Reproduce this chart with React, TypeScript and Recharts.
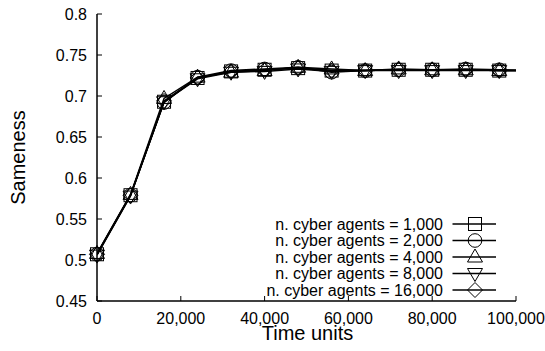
import { LineChart, Line, XAxis, YAxis, Legend, Label } from "recharts";

const times = [0, 8000, 16000, 24000, 32000, 40000, 48000, 56000, 64000, 72000, 80000, 88000, 96000, 104000];
const agents1000 = [0.507, 0.579, 0.693, 0.722, 0.730, 0.732, 0.734, 0.731, 0.731, 0.732, 0.732, 0.732, 0.731, 0.731];
const agents2000 = [0.507, 0.579, 0.692, 0.723, 0.731, 0.733, 0.735, 0.729, 0.731, 0.732, 0.732, 0.733, 0.732, 0.731];
const agents4000 = [0.508, 0.580, 0.697, 0.723, 0.729, 0.731, 0.735, 0.733, 0.731, 0.733, 0.732, 0.732, 0.731, 0.731];
const agents8000 = [0.506, 0.578, 0.693, 0.721, 0.729, 0.730, 0.733, 0.730, 0.731, 0.731, 0.731, 0.731, 0.731, 0.731];
const agents16000 = [0.507, 0.579, 0.694, 0.722, 0.730, 0.732, 0.734, 0.731, 0.731, 0.732, 0.732, 0.732, 0.731, 0.731];

const seriesNames = [
  "n. cyber agents = 1,000",
  "n. cyber agents = 2,000",
  "n. cyber agents = 4,000",
  "n. cyber agents = 8,000",
  "n. cyber agents = 16,000",
];
const seriesValues = [agents1000, agents2000, agents4000, agents8000, agents16000];
const shapes = ["square", "circle", "triangle", "triangleDown", "diamond"];

const xTicks = [0, 20000, 40000, 60000, 80000, 100000];
const yTicks = [0.45, 0.5, 0.55, 0.6, 0.65, 0.7, 0.75, 0.8];
const xMax = 100000;

const FONT = '"Liberation Sans", Arial, Helvetica, sans-serif';

const series = seriesValues.map((vals, i) => {
  const points = times.map((t, j) => ({ x: t, y: vals[j] }));
  return {
    name: seriesNames[i],
    shape: shapes[i],
    points,
    visible: points.filter((p) => p.x <= xMax),
  };
});

function Marker({ shape, cx, cy }: { shape: string; cx: number; cy: number }) {
  const common = { fill: "none", stroke: "#000", strokeWidth: 1 };
  if (shape === "square")
    return <rect x={cx - 6.5} y={cy - 6.5} width={13} height={13} {...common} />;
  if (shape === "circle") return <circle cx={cx} cy={cy} r={6.8} {...common} />;
  if (shape === "triangle")
    return <polygon points={`${cx},${cy - 8} ${cx - 7.5},${cy + 5} ${cx + 7.5},${cy + 5}`} {...common} />;
  if (shape === "triangleDown")
    return <polygon points={`${cx},${cy + 8} ${cx - 7.5},${cy - 5} ${cx + 7.5},${cy - 5}`} {...common} />;
  return <polygon points={`${cx},${cy - 7.5} ${cx + 7.5},${cy} ${cx},${cy + 7.5} ${cx - 7.5},${cy}`} {...common} />;
}

const fmtX = (v: number) => v.toLocaleString("en-US");

function BottomTick(props: any) {
  const { x, y, payload } = props;
  return (
    <g>
      <line x1={x} y1={y} x2={x} y2={y - 5} stroke="#000" strokeWidth={1} />
      <text x={x} y={y + 23} textAnchor="middle" fontSize={16} fill="#000" fontFamily={FONT}>
        {fmtX(payload.value)}
      </text>
    </g>
  );
}

function TopTick(props: any) {
  const { x, y } = props;
  return <line x1={x} y1={y} x2={x} y2={y + 5} stroke="#000" strokeWidth={1} />;
}

function LeftTick(props: any) {
  const { x, y, payload } = props;
  return (
    <g>
      <line x1={x} y1={y} x2={x + 5} y2={y} stroke="#000" strokeWidth={1} />
      <text x={x - 10} y={y} dy="0.36em" textAnchor="end" fontSize={16} fill="#000" fontFamily={FONT}>
        {String(payload.value)}
      </text>
    </g>
  );
}

function RightTick(props: any) {
  const { x, y } = props;
  return <line x1={x} y1={y} x2={x - 5} y2={y} stroke="#000" strokeWidth={1} />;
}

function XTitle(props: any) {
  const { x, y, width } = props.viewBox;
  return (
    <text x={x + width / 2 + 1} y={y + 39} textAnchor="middle" fontSize={20} fill="#000" fontFamily={FONT}>
      Time units
    </text>
  );
}

function YTitle(props: any) {
  const { y, height } = props.viewBox;
  const cx = 17.5;
  const cy = y + height / 2;
  return (
    <text
      x={cx}
      y={cy}
      dy="0.36em"
      textAnchor="middle"
      fontSize={20}
      fill="#000"
      fontFamily={FONT}
      transform={`rotate(-90, ${cx}, ${cy})`}
    >
      Sameness
    </text>
  );
}

function LegendBox() {
  const textRight = 443;
  const lineX1 = 452.5;
  const lineX2 = 496;
  const markerX = 475;
  const top = 224;
  const step = 16.5;
  return (
    <svg width={545} height={351} style={{ display: "block" }}>
      {series.map((s, i) => {
        const cy = top + i * step;
        return (
          <g key={s.name}>
            <text x={textRight} y={cy} dy="0.36em" textAnchor="end" fontSize={16} fill="#000" fontFamily={FONT}>
              {s.name}
            </text>
            <line x1={lineX1} y1={cy} x2={lineX2} y2={cy} stroke="#000" strokeWidth={1.5} />
            <Marker shape={s.shape} cx={markerX} cy={cy} />
          </g>
        );
      })}
    </svg>
  );
}

export default function App() {
  return (
    <div style={{ position: "absolute", left: 0, top: 0, background: "#fff" }}>
      <LineChart
        width={545}
        height={351}
        margin={{ top: 14, right: 29, bottom: 0, left: 0 }}
        style={{ fontFamily: FONT }}
      >
        <XAxis
          xAxisId="main"
          dataKey="x"
          type="number"
          domain={[0, xMax]}
          allowDataOverflow
          ticks={xTicks}
          interval={0}
          height={50}
          tickSize={0}
          tickMargin={0}
          tickLine={false}
          tick={<BottomTick />}
          axisLine={{ stroke: "#000", strokeWidth: 1.5 }}
          label={XTitle}
        />
        <XAxis
          xAxisId="top"
          orientation="top"
          dataKey="x"
          type="number"
          domain={[0, xMax]}
          ticks={xTicks}
          interval={0}
          height={0}
          tickSize={0}
          tickMargin={0}
          tickLine={false}
          tick={<TopTick />}
          axisLine={{ stroke: "#000", strokeWidth: 1.5 }}
        />
        <YAxis
          yAxisId="left"
          type="number"
          domain={[0.45, 0.8]}
          ticks={yTicks}
          interval={0}
          width={97}
          tickSize={0}
          tickMargin={0}
          tickLine={false}
          tick={<LeftTick />}
          axisLine={{ stroke: "#000", strokeWidth: 1.5 }}
          label={YTitle}
        />
        <YAxis
          yAxisId="right"
          orientation="right"
          type="number"
          domain={[0.45, 0.8]}
          ticks={yTicks}
          interval={0}
          width={0}
          tickSize={0}
          tickMargin={0}
          tickLine={false}
          tick={<RightTick />}
          axisLine={{ stroke: "#000", strokeWidth: 1.5 }}
        />
        {series.map((s) => (
          <Line
            key={`line-${s.name}`}
            xAxisId="main"
            yAxisId="left"
            data={s.points}
            dataKey="y"
            name={s.name}
            stroke="#000"
            strokeWidth={1.5}
            dot={false}
            activeDot={false}
            legendType="none"
            isAnimationActive={false}
          />
        ))}
        {series.map((s) => (
          <Line
            key={`dots-${s.name}`}
            xAxisId="top"
            yAxisId="right"
            data={s.visible}
            dataKey="y"
            name={s.name}
            stroke="none"
            dot={(p: any) => <Marker key={`${s.name}-${p.index}`} shape={s.shape} cx={p.cx} cy={p.cy} />}
            activeDot={false}
            legendType="none"
            isAnimationActive={false}
          />
        ))}
        <Legend
          layout="horizontal"
          verticalAlign="middle"
          align="center"
          content={() => <LegendBox />}
          wrapperStyle={{ left: 0, top: 0, width: 545, height: 351, margin: 0 }}
        />
      </LineChart>
    </div>
  );
}
